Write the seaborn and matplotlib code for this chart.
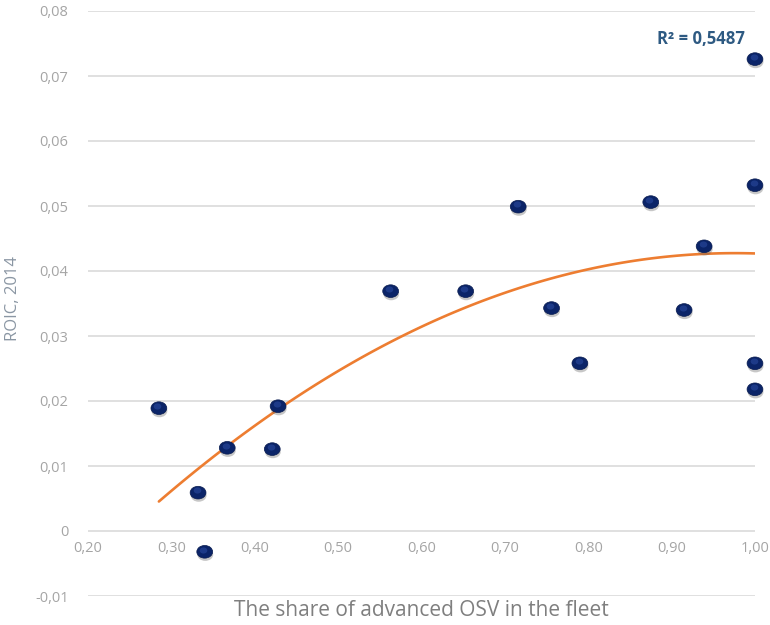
import numpy as np
import pandas as pd
import matplotlib
matplotlib.use("Agg")
import matplotlib.pyplot as plt
import matplotlib.patheffects as pe
from matplotlib.path import Path
from matplotlib.transforms import Affine2D, offset_copy
import seaborn as sns

# Share of advanced OSV in each company's fleet vs. return on invested capital
share_advanced = [0.285, 0.332, 0.340, 0.367, 0.421, 0.428, 0.563, 0.653, 0.716,
                  0.756, 0.790, 0.875, 0.915, 0.939, 1.000, 1.000, 1.000, 1.000]
roic_2014 = [0.0189, 0.0059, -0.0032, 0.0128, 0.0126, 0.0192, 0.0369, 0.0369, 0.0499,
             0.0343, 0.0258, 0.0506, 0.0340, 0.0438, 0.0532, 0.0726, 0.0258, 0.0218]

x_ticks = [0.2, 0.3, 0.4, 0.5, 0.6, 0.7, 0.8, 0.9, 1.0]
x_tick_labels = ["0,20", "0,30", "0,40", "0,50", "0,60", "0,70", "0,80", "0,90", "1,00"]
y_ticks = [-0.01, 0.0, 0.01, 0.02, 0.03, 0.04, 0.05, 0.06, 0.07, 0.08]
y_tick_labels = ["-0,01", "0", "0,01", "0,02", "0,03", "0,04", "0,05", "0,06", "0,07", "0,08"]
r2_label = "R² = 0,5487"

df = pd.DataFrame({"share": share_advanced, "roic": roic_2014})

sns.set_theme(style="white")
plt.rcParams["font.family"] = ["Open Sans", "DejaVu Sans"]

fig = plt.figure(figsize=(7.7, 6.25), dpi=100)
ax = fig.add_axes([0.1143, 0.0464, 0.8662, 0.936])

# Horizontal gridlines only
ax.set_xlim(0.2, 1.0)
ax.set_ylim(-0.01, 0.08)
ax.set_yticks(y_ticks)
ax.set_yticklabels(y_tick_labels)
ax.set_xticks(x_ticks)
ax.set_xticklabels(x_tick_labels)
ax.grid(axis="y", color="#e0e0e0", linewidth=1.4)
ax.grid(axis="x", visible=False)
ax.set_axisbelow(True)
for s in ["top", "right", "left"]:
    ax.spines[s].set_visible(False)
ax.spines["bottom"].set_position(("data", 0))
ax.spines["bottom"].set_visible(False)
ax.tick_params(axis="both", length=0, colors="#a5a5a5", labelsize=10.5)
ax.tick_params(axis="y", pad=14)
ax.tick_params(axis="x", pad=7)

# Quadratic trendline
sns.regplot(data=df, x="share", y="roic", order=2, ci=None, scatter=False,
            truncate=True, ax=ax, line_kws={"color": "#ed7d31", "linewidth": 1.9, "zorder": 3})

# Slightly flattened round markers with soft shadow
ellipse = Path(Affine2D().scale(1.0, 0.8).transform(Path.unit_circle().vertices),
               Path.unit_circle().codes)
pts = sns.scatterplot(data=df, x="share", y="roic", ax=ax, marker=ellipse, s=130,
                      color="#0b2468", edgecolor="#081b4f", linewidth=0.5, zorder=4,
                      clip_on=False)
pts.collections[-1].set_path_effects([
    pe.SimplePatchShadow(offset=(0.4, -2.0), shadow_rgbFace="#606060", alpha=0.35),
    pe.Normal()])
# Sheen on the upper part of each marker
hl = offset_copy(ax.transData, fig=fig, x=-1.0, y=1.6, units="points")
ax.scatter(df["share"], df["roic"], marker=ellipse, s=30, color="#3557b0",
           alpha=0.45, linewidth=0, zorder=5, transform=hl, clip_on=False)

ax.set_xlabel("")
ax.set_ylabel("")

ax.text(0.988, 0.0757, r2_label, ha="right", va="center", fontsize=12,
        fontweight="bold", color="#2e5a82")

fig.text(421 / 770, 1 - 611 / 625, "The share of advanced OSV in the fleet",
         ha="center", va="center", fontsize=15, color="#7f7f7f")
fig.text(13 / 770, 1 - 299 / 625, "ROIC, 2014", ha="center", va="center",
         rotation=90, fontsize=12, color="#8a96a3")

fig.savefig("out.png", dpi=100)
